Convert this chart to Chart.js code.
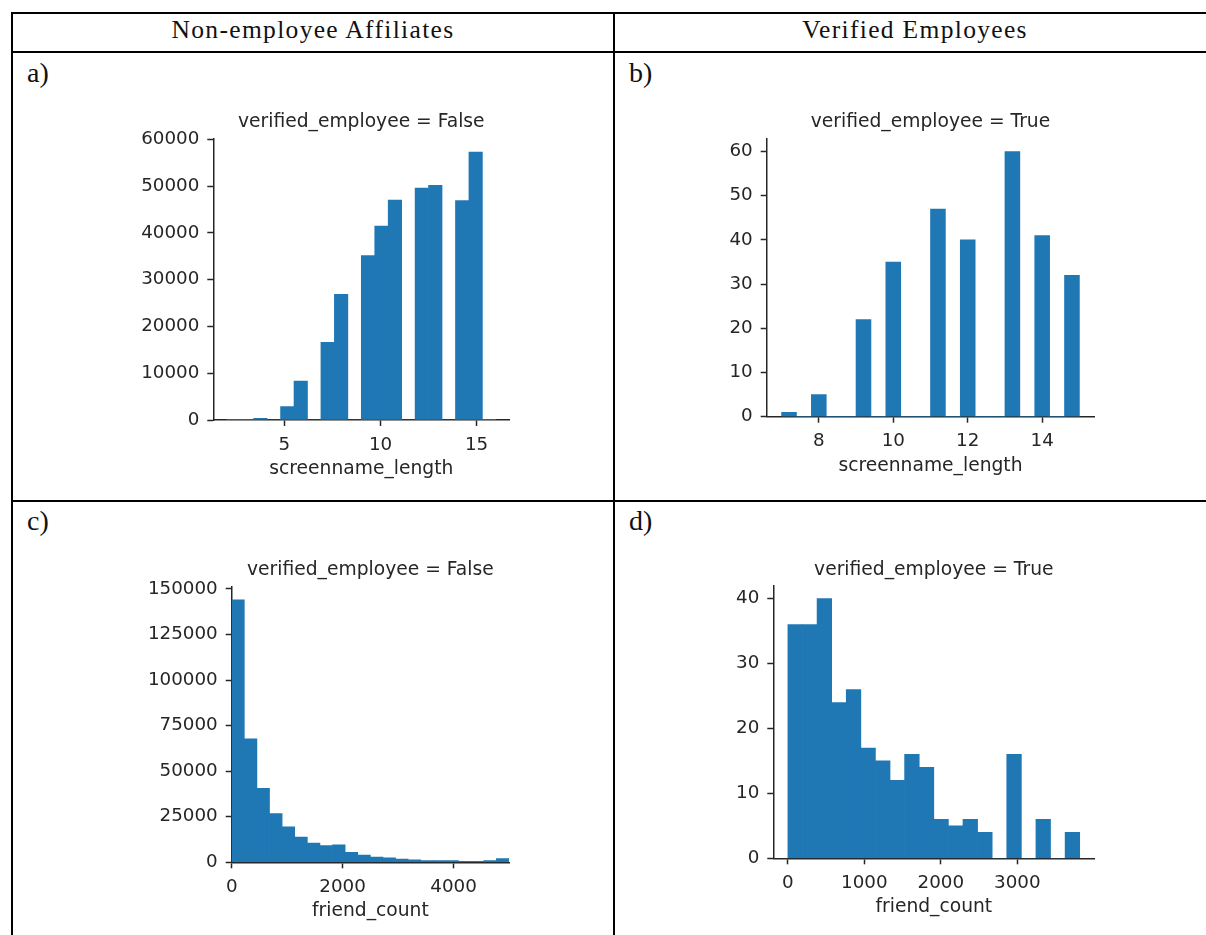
<!DOCTYPE html>
<html>
<head>
<meta charset="utf-8">
<title>Screen name length and friend count by employee status</title>
<script src="https://cdn.jsdelivr.net/npm/chart.js@4.4.1/dist/chart.umd.min.js"></script>
<style>
  html, body { margin: 0; padding: 0; background: #fff; }
  body { position: relative; width: 1206px; height: 935px; overflow: hidden; }
  .rule { position: absolute; background: #000; }
  .head {
    position: absolute; top: 16.5px; width: 600px;
    font-family: 'Liberation Serif', serif; font-size: 25.5px; letter-spacing: 1.33px;
    line-height: 1; color: #111; text-align: center; white-space: nowrap;
  }
  .tag {
    position: absolute; font-family: 'Liberation Serif', serif; font-size: 28px;
    line-height: 1; color: #111; white-space: nowrap;
  }
  canvas { position: absolute; }
</style>
</head>
<body>
  <!-- table rules -->
  <div class="rule" style="left:11px;top:12px;width:1200px;height:2px"></div>
  <div class="rule" style="left:11px;top:51px;width:1200px;height:2px"></div>
  <div class="rule" style="left:11px;top:500px;width:1200px;height:2px"></div>
  <div class="rule" style="left:11px;top:12px;width:2px;height:930px"></div>
  <div class="rule" style="left:613px;top:12px;width:2px;height:930px"></div>

  <div class="head" style="left:13px">Non-employee Affiliates</div>
  <div class="head" style="left:615px">Verified Employees</div>

  <div class="tag" style="left:27px;top:58.5px">a)</div>
  <div class="tag" style="left:629px;top:58.5px">b)</div>
  <div class="tag" style="left:27px;top:506.5px">c)</div>
  <div class="tag" style="left:629px;top:506.5px">d)</div>

  <canvas id="panelA"></canvas>
  <canvas id="panelB"></canvas>
  <canvas id="panelC"></canvas>
  <canvas id="panelD"></canvas>

<script>
// ---- histogram counts (20 or 22 equal-width bins per panel) ----
// screenname_length, non-employees: bins over [2, 16]
const lengthRangeFalse = [2, 16];
const lengthCountsFalse = [10, 20, 350, 0, 2850, 8340, 0, 16600, 26860, 0,
                           35130, 41470, 47030, 0, 49600, 50170, 0, 46890, 57290, 10];
// screenname_length, verified employees: bins over [7, 15]
const lengthRangeTrue = [7, 15];
const lengthCountsTrue = [1, 0, 5, 0, 0, 22, 0, 35, 0, 0,
                          47, 0, 40, 0, 0, 60, 0, 41, 0, 32];
// friend_count, non-employees: bins over [0, 5000]
const friendRangeFalse = [0, 5000];
const friendCountsFalse = [144100, 67700, 40600, 26800, 19400, 13900, 10600, 9200, 9600, 5500, 3900,
                           2800, 2400, 1700, 1300, 950, 900, 900, 600, 600, 950, 2000];
// friend_count, verified employees: bins over [0, 3816]
const friendRangeTrue = [0, 3816];
const friendCountsTrue = [36, 36, 40, 24, 26, 17, 15, 12, 16, 14,
                          6, 5, 6, 4, 0, 16, 0, 6, 0, 4];

// ---- axis limits and ticks ----
const xLimA = [1.3, 16.7],      yMaxA = 60150;
const xLimB = [6.6, 15.4],      yMaxB = 63;
const xLimC = [0, 5000],        yMaxC = 151305;
const xLimD = [-190.8, 4006.8], yMaxD = 42;

const xTicksA = [5, 10, 15];
const yTicksA = [0, 10000, 20000, 30000, 40000, 50000, 60000];
const xTicksB = [8, 10, 12, 14];
const yTicksB = [0, 10, 20, 30, 40, 50, 60];
const xTicksC = [0, 2000, 4000];
const yTicksC = [0, 25000, 50000, 75000, 100000, 125000, 150000];
const xTicksD = [0, 1000, 2000, 3000];
const yTicksD = [0, 10, 20, 30, 40];

const titleFalse = 'verified_employee = False';
const titleTrue = 'verified_employee = True';
const labelLength = 'screenname_length';
const labelFriends = 'friend_count';

// ---- styling ----
const BLUE = '#1f77b4';
const INK = '#262626';
const TICK_FONT = { family: "'DejaVu Sans', sans-serif", size: 18.3, weight: 'normal', lineHeight: 1.2 };
const LABEL_FONT = { family: "'DejaVu Sans', sans-serif", size: 18.7, weight: 'normal', lineHeight: 1.2 };

function histogram(id, box, area, spec) {
  const cv = document.getElementById(id);
  cv.width = box.w; cv.height = box.h;
  Object.assign(cv.style, { left: box.x + 'px', top: box.y + 'px', width: box.w + 'px', height: box.h + 'px' });

  const n = spec.counts.length;
  const bw = (spec.range[1] - spec.range[0]) / n;
  const bars = spec.counts.map((c, i) => ({ x: spec.range[0] + bw * (i + 0.5), y: c }));

  const lh = LABEL_FONT.size * 1.2;
  const mid = 0.346 * LABEL_FONT.size;          // alphabetic baseline -> middle baseline
  const topBand = area.t - box.y;
  const titlePadTop = topBand - 9.5 - mid - lh / 2;
  const titlePadBottom = topBand - lh - titlePadTop;
  const bottomBand = box.y + box.h - area.b;
  const xTitlePadBottom = bottomBand - (55.5 - mid) - lh / 2;
  const leftBand = area.l - box.x;

  const grid = { display: true, drawOnChartArea: false, drawTicks: true, tickLength: 6,
                 tickWidth: 1.5, tickColor: INK, color: INK, offset: false };
  const border = { display: true, color: INK, width: 1.5 };

  new Chart(cv, {
    type: 'bar',
    data: { datasets: [{ data: bars, backgroundColor: BLUE, borderWidth: 0,
                         barPercentage: 1, categoryPercentage: 1 }] },
    options: {
      responsive: false, animation: false, devicePixelRatio: 1,
      layout: { padding: { left: 0, top: 0, bottom: 0, right: box.x + box.w - area.r } },
      plugins: {
        legend: { display: false },
        tooltip: { enabled: false },
        title: { display: true, text: spec.title, fullSize: false, color: INK, font: LABEL_FONT,
                 padding: { top: titlePadTop, bottom: titlePadBottom } }
      },
      scales: {
        x: {
          type: 'linear', min: spec.xlim[0], max: spec.xlim[1], offset: false,
          afterBuildTicks: s => { s.ticks = spec.xticks.map(v => ({ value: v })); },
          afterFit: s => { s.height = bottomBand; },
          ticks: { font: TICK_FONT, color: INK, padding: 8, autoSkip: false, maxRotation: 0,
                   callback: v => String(v) },
          grid, border,
          title: { display: true, text: spec.xlabel, color: INK, font: LABEL_FONT,
                   padding: { top: 0, bottom: xTitlePadBottom } }
        },
        y: {
          type: 'linear', min: 0, max: spec.ymax,
          afterBuildTicks: s => { s.ticks = spec.yticks.map(v => ({ value: v })); },
          afterFit: s => { s.width = leftBand; },
          ticks: { font: TICK_FONT, color: INK, padding: 8, autoSkip: false,
                   callback: v => String(v) },
          grid, border
        }
      }
    }
  });
}

histogram('panelA', { x: 100, y: 90, w: 470, h: 400 }, { l: 213.3, t: 138.6, r: 509.3, b: 420 },
  { range: lengthRangeFalse, counts: lengthCountsFalse, xlim: xLimA, ymax: yMaxA,
    xticks: xTicksA, yticks: yTicksA, title: titleFalse, xlabel: labelLength });

histogram('panelB', { x: 660, y: 90, w: 500, h: 400 }, { l: 766.7, t: 138.3, r: 1094.3, b: 416.7 },
  { range: lengthRangeTrue, counts: lengthCountsTrue, xlim: xLimB, ymax: yMaxB,
    xticks: xTicksB, yticks: yTicksB, title: titleTrue, xlabel: labelLength });

histogram('panelC', { x: 120, y: 540, w: 450, h: 390 }, { l: 231.7, t: 586.6, r: 509, b: 862.3 },
  { range: friendRangeFalse, counts: friendCountsFalse, xlim: xLimC, ymax: yMaxC,
    xticks: xTicksC, yticks: yTicksC, title: titleFalse, xlabel: labelFriends });

histogram('panelD', { x: 660, y: 540, w: 500, h: 390 }, { l: 773.3, t: 585.7, r: 1094.3, b: 858.3 },
  { range: friendRangeTrue, counts: friendCountsTrue, xlim: xLimD, ymax: yMaxD,
    xticks: xTicksD, yticks: yTicksD, title: titleTrue, xlabel: labelFriends });
</script>
</body>
</html>
